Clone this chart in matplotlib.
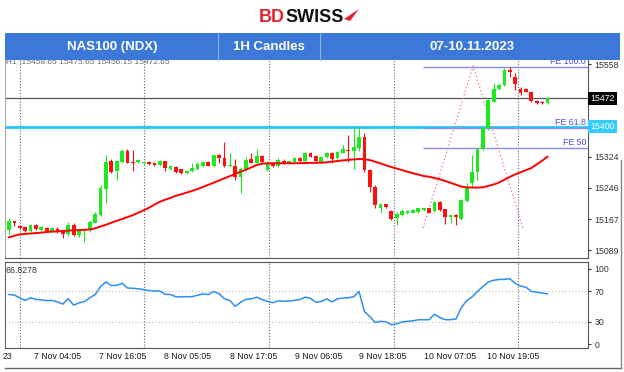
import matplotlib
matplotlib.use("Agg")
import matplotlib.pyplot as plt
from matplotlib.patches import Rectangle, Polygon
from matplotlib.lines import Line2D
import numpy as np

plt.rcParams['font.family'] = ['Liberation Sans', 'DejaVu Sans']

# ---------------- data ----------------
opens = [15139.5, 15161, 15150, 15147, 15137, 15153, 15139.5, 15144.5, 15137, 15143,
         15137, 15128.6, 15153, 15126, 15137, 15141, 15158, 15177.3, 15242.9, 15313.4,
         15288, 15310, 15339.4, 15311.7, 15310, 15307.7, 15311, 15307.7, 15304, 15312.7,
         15294, 15297.6, 15292.5, 15282.4, 15287.5, 15293.3, 15300.8, 15311, 15300.8, 15327.8,
         15321.8, 15300.8, 15300.8, 15273.9, 15292.5, 15317.7, 15309.2, 15326.1, 15290.8, 15309.2,
         15300.8, 15314, 15307.7, 15311.7, 15321, 15312.7, 15334.4, 15326.1, 15311.7, 15322.8,
         15334.4, 15320.3, 15334.4, 15341.2, 15339.4, 15345.5, 15374.7, 15290.8, 15248.7, 15194.2,
         15204.3, 15188.1, 15169, 15177.3, 15181.6, 15183.1, 15185.6, 15189.9, 15194.2, 15188.1,
         15210.8, 15191.7, 15171.5, 15177.3, 15166.5, 15213.3, 15257.2, 15286.5, 15343, 15395.9,
         15463, 15494.2, 15505.1, 15542.9, 15524.5, 15495.8, 15494.2, 15488.2, 15465.5, 15463,
         15458.65]
highs = [15169, 15163, 15152, 15149, 15154.6, 15154.6, 15150, 15146, 15146, 15148,
         15139.5, 15160.4, 15156.4, 15142, 15139.5, 15164.7, 15185.6, 15253, 15328.6, 15317.7,
         15316, 15343.7, 15343.7, 15341.2, 15318.5, 15313.4, 15313.4, 15309.7, 15316, 15314,
         15303.4, 15299.6, 15294.5, 15290.8, 15309.2, 15311, 15314, 15313.4, 15329.8, 15331,
         15361.4, 15332.9, 15317.7, 15299, 15324.3, 15334.4, 15343, 15328.6, 15313.4, 15311,
         15319.8, 15317.7, 15314.7, 15323.5, 15323.5, 15336.9, 15336.1, 15328.6, 15326.1, 15336.1,
         15336.1, 15338.7, 15353.8, 15379, 15395.9, 15399.9, 15383.3, 15292.5, 15253, 15206.8,
         15205.8, 15189.9, 15185.6, 15191.2, 15189.9, 15191.7, 15196.2, 15196.2, 15196.2, 15212.6,
         15212.6, 15193.7, 15179.8, 15179.8, 15217.6, 15257.2, 15328.6, 15345, 15399.2, 15469.8,
         15509.4, 15507.6, 15547.2, 15551.2, 15534.6, 15500.8, 15496.3, 15490, 15467.3, 15464.7,
         15475.65]
lows = [15129, 15149.6, 15142, 15135, 15135, 15139.5, 15137, 15136, 15134.4, 15131,
        15118.6, 15124, 15124, 15122.6, 15110, 15135, 15156.4, 15174.8, 15206.8, 15284,
        15265.5, 15307.7, 15307.7, 15289, 15308.4, 15305.9, 15303.4, 15302, 15302, 15289,
        15292, 15283.2, 15280.7, 15280.7, 15285.7, 15290.8, 15299, 15299.6, 15299, 15307.7,
        15297.6, 15297.6, 15265.5, 15233.5, 15289, 15307.7, 15307.7, 15309.7, 15288, 15298.3,
        15298.3, 15307.1, 15305.9, 15310, 15311, 15311, 15322.3, 15307.7, 15309.7, 15321,
        15309.2, 15318.5, 15332.4, 15311.7, 15292.5, 15339.4, 15286.5, 15236, 15194.2, 15183.1,
        15196.2, 15164.7, 15152, 15175.5, 15179.8, 15181.6, 15183.6, 15187.4, 15181.6, 15186.1,
        15187.4, 15154.6, 15156.4, 15152, 15164.7, 15211.3, 15244.6, 15265.5, 15341.2, 15391.6,
        15461, 15492.5, 15502.6, 15526, 15492.5, 15479.9, 15486.2, 15462.2, 15458.4, 15457.2,
        15456.15]
closes = [15163, 15158, 15145, 15137, 15153, 15141, 15146, 15138, 15144, 15134,
          15128.6, 15152, 15127, 15138, 15138.7, 15160.4, 15179.8, 15244.6, 15311.7, 15286.5,
          15313.4, 15339.4, 15309.2, 15309.2, 15316, 15311, 15305.9, 15304, 15314, 15295.8,
          15300.8, 15285, 15282.4, 15289, 15295.8, 15305.1, 15311.7, 15301.6, 15327.8, 15321.8,
          15300.8, 15304, 15273.9, 15292.5, 15316, 15309.2, 15326.1, 15311.7, 15307.7, 15300.8,
          15316, 15309.2, 15312.7, 15320.3, 15312.7, 15334.4, 15324.3, 15314, 15324.3, 15334.4,
          15317.7, 15336.9, 15343, 15339.4, 15348, 15374.7, 15290.8, 15248.7, 15202.5, 15204.3,
          15198.2, 15166.5, 15179.1, 15188.1, 15188.1, 15189.9, 15194.2, 15194.2, 15183.1, 15210.8,
          15189.9, 15171.5, 15177.3, 15173, 15215.1, 15247.1, 15286.5, 15343, 15397.4, 15467.3,
          15494.2, 15505.1, 15542.9, 15538.6, 15507.6, 15485.7, 15488.2, 15464.7, 15460.5, 15458.9,
          15472.65]
ma = [15121.1, 15124.9, 15128.6, 15129.6, 15130.7, 15131.7, 15132.9, 15134.4, 15135.4, 15136.2,
      15137, 15138, 15138.7, 15139.2, 15140, 15140.7, 15143.8, 15148.3, 15152.8, 15157.6,
      15162.7, 15167.2, 15172, 15177, 15183.1, 15189.2, 15195.5, 15203.5, 15210.6, 15215.9,
      15220.4, 15226, 15229.7, 15233.8, 15238.1, 15242.6, 15247.9, 15253.4, 15258.7, 15264.3,
      15269.8, 15275.4, 15280.9, 15286.7, 15291.5, 15297.3, 15303.4, 15306.6, 15307.7, 15307.7,
      15307.7, 15307.7, 15307.7, 15307.7, 15308, 15308.4, 15308.7, 15308.9, 15309.2, 15310.2,
      15311.7, 15313.4, 15315, 15316.2, 15317.5, 15318.5, 15318, 15315.7, 15311.7, 15307.2,
      15302.6, 15298.3, 15294.3, 15290.5, 15286.5, 15282.7, 15279.2, 15275.6, 15273.9, 15270.8,
      15267.3, 15263, 15258.5, 15253.7, 15248.9, 15246.9, 15246.6, 15246.4, 15247.1, 15250.7,
      15254.2, 15259.2, 15266.3, 15273.4, 15279.7, 15285, 15290.5, 15295.8, 15304.9, 15314.2,
      15324.3]
rsi = [66, 65.2, 61.5, 58.2, 61.6, 59.5, 58.8, 57.9, 58, 56,
       53.3, 60.4, 51.8, 54.8, 56.5, 61.6, 65.9, 76.6, 82.7, 78,
       78.1, 80.9, 74.6, 74.2, 73.6, 72.5, 71.3, 70.7, 70.7, 66.2,
       66, 63, 62.8, 63.1, 63.1, 65, 66.8, 65.8, 70, 67,
       60.4, 58, 50.2, 55.5, 59.6, 60.1, 62.5, 59.2, 56.8, 55,
       57.6, 56.9, 57.3, 58.2, 59.3, 62.5, 60.8, 55.5, 56.8, 60.2,
       56.2, 60.3, 61.2, 61.7, 63, 70, 43.4, 36.6, 28.7, 30.2,
       29.6, 25.7, 26.8, 29.5, 30.2, 30.9, 32.3, 32.3, 32.4, 39.6,
       35.3, 32.4, 32.4, 33.4, 48.5, 57.8, 62.9, 70.2, 76.7, 82.5,
       85, 86, 86.2, 87, 80.8, 77.2, 75.6, 70.1, 69, 68,
       66.8]

price_ticks = [15558, 15324, 15246, 15167, 15089]
current_price = 15472
level_price = 15400
fe_levels = [15550.5, 15396.7, 15346.2]
fe_labels = ["FE 100.0", "FE 61.8", "FE 50"]
fe_start = 76.9
fibo_x = [76.9, 86.2, 95.4]
fibo_y = [15144.5, 15553, 15144.5]
grid_bars = [2.04, 25.07, 48.28, 71.5, 94.5]
time_pos = [-0.2, 9.1, 21.1, 33.2, 45.5, 57.5, 69.3, 81.9, 93.6]
time_labels = ["23", "7 Nov 04:05", "7 Nov 16:05", "8 Nov 05:05", "8 Nov 17:05",
               "9 Nov 06:05", "9 Nov 18:05", "10 Nov 07:05", "10 Nov 19:05"]
rsi_ticks = [100, 70, 30, 0]
header = ["NAS100 (NDX)", "1H Candles", "07-10.11.2023"]
ohlc_text = "H1 :15458.65 15475.65 15456.15 15472.65"
rsi_text = "66.8278"

# ---------------- figure ----------------
W, H = 624, 372
fig = plt.figure(figsize=(W / 100, H / 100), dpi=100)
fig.patch.set_facecolor('white')

def box(x0, y0, x1, y1):
    return [x0 / W, 1 - y1 / H, (x1 - x0) / W, (y1 - y0) / H]

XL = (-0.743, 107.52)
ax = fig.add_axes(box(5, 60, 588, 258))
ax2 = fig.add_axes(box(5, 262, 588, 348))

GREEN = '#1ee81e'
RED = '#ff1010'

x = np.arange(len(opens))
o = np.array(opens); h = np.array(highs); l = np.array(lows); c = np.array(closes)
up = c >= o
cols = np.where(up, GREEN, RED)

ax.vlines(x, l, h, colors=cols, linewidth=0.8, zorder=3)
bot = np.minimum(o, c)
hgt = np.maximum(np.abs(c - o), 1.2)
ax.bar(x, hgt, bottom=bot, width=0.7, color=cols, linewidth=0, zorder=4)

ax.plot(x, ma, color='#ff0000', linewidth=1.4, zorder=5)

# horizontal levels
ax.axhline(current_price, color='#555555', linewidth=0.9, zorder=2)
ax.axhline(level_price, color='#1ec8f5', linewidth=2.0, zorder=2)
for lv, lab in zip(fe_levels, fe_labels):
    ax.hlines(lv, fe_start, XL[1], color='#8a8af0', linewidth=1.0, zorder=2)
    ax.text(XL[1] - 0.35, lv + 1.5, lab, ha='right', va='bottom', fontsize=6.3,
            color='#4b4be6', zorder=6)
ax.plot(fibo_x, fibo_y, color='#f07070', linewidth=0.9, linestyle=(0, (1, 2)), zorder=2)

for gb in grid_bars:
    ax.axvline(gb, color='#666666', linewidth=0.8, linestyle=(0, (1, 1.6)), zorder=1)
    ax2.axvline(gb, color='#666666', linewidth=0.8, linestyle=(0, (1, 1.6)), zorder=1)

ax.set_xlim(*XL)
ax.set_ylim(15068.9, 15568.1)
ax.set_xticks([])
ax.yaxis.tick_right()
ax.set_yticks(price_ticks)
ax.set_yticklabels([str(t) for t in price_ticks])
ax.tick_params(axis='y', length=2.5, width=0.8, pad=2, labelsize=6.3, colors='#333333')
ax.spines['top'].set_visible(False)
ax.spines['left'].set_color('#aaaaaa')
ax.spines['right'].set_color('#555555')
ax.spines['bottom'].set_color('#555555')

tr = ax.get_yaxis_transform()
ax.text(1.004, current_price, str(current_price), transform=tr, ha='left', va='center',
        fontsize=6.3, color='white', zorder=10,
        bbox=dict(boxstyle='square,pad=0.22', fc='black', ec='none'), clip_on=False)
ax.text(1.004, level_price, str(level_price), transform=tr, ha='left', va='center',
        fontsize=6.3, color='white', zorder=10,
        bbox=dict(boxstyle='square,pad=0.22', fc='#33ccff', ec='none'), clip_on=False)

# indicator panel
ax2.plot(x, rsi, color='#2b8ff5', linewidth=1.1, zorder=3)
ax2.axhline(70, color='#bbbbbb', linewidth=0.8, linestyle=(0, (1, 2)), zorder=1)
ax2.axhline(30, color='#bbbbbb', linewidth=0.8, linestyle=(0, (1, 2)), zorder=1)
ax2.set_xlim(*XL)
ax2.set_ylim(-5.3, 109.3)
ax2.yaxis.tick_right()
ax2.set_yticks(rsi_ticks)
ax2.set_yticklabels([str(t) for t in rsi_ticks])
ax2.tick_params(axis='y', length=2.5, width=0.8, pad=2, labelsize=6.3, colors='#333333')
ax2.set_xticks(time_pos)
ax2.set_xticklabels(time_labels)
ax2.tick_params(axis='x', length=0, pad=3, labelsize=6.3, colors='#1a1a1a')
ax2.spines['top'].set_color('#555555')
ax2.spines['left'].set_color('#666666')
ax2.spines['right'].set_color('#555555')
ax2.spines['bottom'].set_color('#555555')
ax2.text(0.001, 0.905, rsi_text, transform=ax2.transAxes, ha='left', va='center',
         fontsize=6.3, color='#333333')

# OHLC text (partly under the banner)
fig.text(6 / W, 1 - 63 / H, ohlc_text, ha='left', va='center', fontsize=6, color='#666666', zorder=1)

# outer frame bits
fig.add_artist(Line2D([5 / W, 621 / W], [1 - 368 / H, 1 - 368 / H], color='#666666', linewidth=1))
fig.add_artist(Line2D([621 / W, 621 / W], [1 - 160 / H, 1 - 368 / H], color='#888888', linewidth=1))

# banner
fig.add_artist(Rectangle((5 / W, 1 - 60 / H), 615 / W, 27 / H, transform=fig.transFigure,
                         facecolor='#3b78d8', edgecolor='none', zorder=20))
for dx in [218, 320]:
    fig.add_artist(Line2D([dx / W, dx / W], [1 - 60 / H, 1 - 33 / H], color='#8fb1e8',
                          linewidth=0.8, zorder=21))
for cx, txt in zip([112, 269, 472], header):
    fig.text(cx / W, 1 - 47 / H, txt, ha='center', va='center', fontsize=9.5,
             fontweight='bold', color='white', zorder=22)

# logo
fig.text(285 / W, 1 - 17 / H, "BD", ha='right', va='center', fontsize=13,
         fontweight='bold', color='#e8202a')
fig.text(285 / W, 1 - 17 / H, "SWISS", ha='left', va='center', fontsize=13,
         fontweight='bold', color='#111111')
fig.add_artist(Polygon([[344 / W, 1 - 19 / H], [359 / W, 1 - 9 / H], [350 / W, 1 - 21 / H]],
                       closed=True, transform=fig.transFigure, facecolor='#e8202a',
                       edgecolor='none'))

fig.savefig('out.png', dpi=100)
